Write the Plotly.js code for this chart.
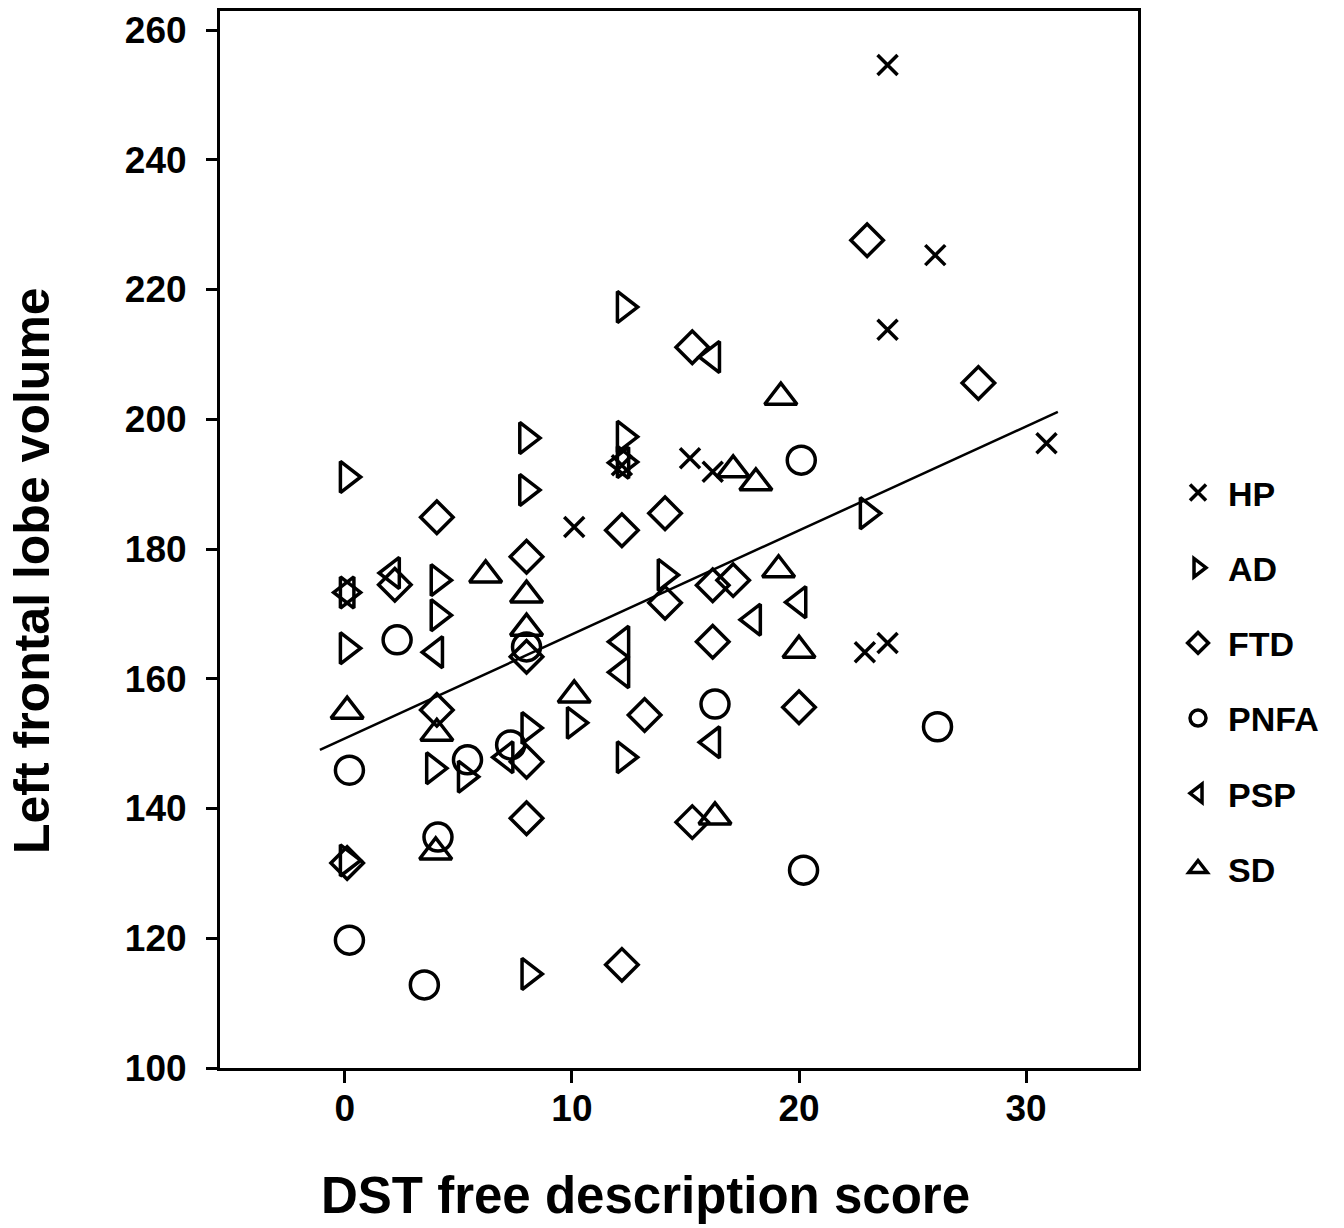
<!DOCTYPE html>
<html>
<head>
<meta charset="utf-8">
<script src="https://cdn.plot.ly/plotly-3.0.1.min.js"></script>
<style>html,body{margin:0;padding:0;background:#fff;}#chart{width:1344px;height:1228px;}</style>
</head>
<body>
<div id="chart"></div>
<script>
// ---- data ----
const groupNames = ["HP", "AD", "FTD", "PNFA", "PSP", "SD"];

const hpX = [23.9, 26.0, 23.9, 30.9, 15.2, 16.2, 10.1, 12.2, 22.9, 23.9];
const hpY = [254.6, 225.3, 213.8, 196.3, 194.0, 191.9, 183.4, 192.9, 164.1, 165.5];

const adX = [12.3, 8.0, 12.3, 0.1, 8.0, 23.0, 4.1, 4.1, 0.1, 14.1, 12.3, 3.9, 5.3, 8.1, 12.3, 10.1, 8.1, 0.1, 0.1];
const adY = [217.3, 197.1, 197.3, 191.1, 189.1, 185.5, 175.2, 169.8, 164.7, 176.0, 193.4, 146.2, 144.9, 152.4, 147.9, 153.2, 114.5, 132.0, 173.3];

const ftdX = [23.0, 27.9, 15.3, 4.05, 8.0, 12.2, 14.1, 2.2, 14.1, 16.2, 17.1, 16.2, 8.0, 4.05, 13.2, 20.0, 8.0, 8.0, 15.3, 12.2, 0.1];
const ftdY = [227.6, 205.6, 211.1, 184.9, 178.8, 182.9, 185.5, 174.5, 171.7, 174.4, 175.2, 165.7, 163.4, 155.2, 154.4, 155.6, 147.2, 138.5, 137.9, 115.9, 131.6];

const pnfaX = [20.1, 2.3, 8.0, 0.2, 5.4, 7.3, 16.3, 26.1, 20.2, 4.1, 0.2, 3.5];
const pnfaY = [193.7, 166.0, 164.9, 145.9, 147.5, 149.8, 156.1, 152.6, 130.5, 135.6, 119.7, 112.8];

const pspX = [16.2, 12.2, 2.1, 0.1, 4.0, 20.0, 18.0, 12.2, 12.2, 16.2, 7.1];
const pspY = [209.6, 193.3, 176.3, 173.3, 164.1, 171.8, 169.1, 165.7, 161.0, 150.2, 147.9];

const sdX = [19.2, 17.1, 18.1, 6.2, 8.0, 8.0, 19.1, 20.0, 10.1, 0.1, 4.05, 16.3, 4.0];
const sdY = [203.4, 192.2, 190.2, 176.0, 172.9, 167.8, 176.8, 164.4, 157.5, 155.0, 151.6, 138.7, 133.3];

// fitted regression line
const fitIntercept = 150.8;
const fitSlope = 1.603;
const fitXRange = [-1.1, 31.4];

const yTickVals = [100, 120, 140, 160, 180, 200, 220, 240, 260];
const xTickVals = [0, 10, 20, 30];

const xTitle = "DST free description score";
const yTitle = "Left frontal lobe volume";

// ---- styling ----
const FONT = "Liberation Sans, Arial, Helvetica, sans-serif";
const symbols = {
  HP:   {symbol: "x-thin-open", size: 20},
  AD:   {symbol: "triangle-right-open", size: 27},
  FTD:  {symbol: "diamond-open", size: 25},
  PNFA: {symbol: "circle-open", size: 28},
  PSP:  {symbol: "triangle-left-open", size: 27},
  SD:   {symbol: "triangle-up-open", size: 28}
};
const seriesX = {HP: hpX, AD: adX, FTD: ftdX, PNFA: pnfaX, PSP: pspX, SD: sdX};
const seriesY = {HP: hpY, AD: adY, FTD: ftdY, PNFA: pnfaY, PSP: pspY, SD: sdY};

const traces = groupNames.map(name => ({
  type: "scatter",
  mode: "markers",
  name: name,
  legendgroup: name,
  x: seriesX[name],
  y: seriesY[name],
  marker: {
    symbol: symbols[name].symbol,
    size: symbols[name].size,
    color: "black",
    line: {color: "black", width: 3.5}
  },
  cliponaxis: false
}));

const fitX = fitXRange.slice();
const fitY = fitX.map(x => fitIntercept + fitSlope * x);
traces.unshift({
  type: "scatter",
  mode: "lines",
  x: fitX,
  y: fitY,
  line: {color: "black", width: 2.5},
  showlegend: false,
  hoverinfo: "skip"
});

const layout = {
  width: 1344,
  height: 1228,
  margin: {l: 220, r: 206, t: 11, b: 160},
  paper_bgcolor: "white",
  plot_bgcolor: "white",
  font: {family: FONT, color: "black"},
  showlegend: true,
  legend: {
    x: 1.0327, xanchor: "left",
    y: 0.5715, yanchor: "top",
    font: {family: FONT, size: 34, weight: "bold", color: "black"},
    itemwidth: 50,
    tracegroupgap: 28,
    bgcolor: "rgba(0,0,0,0)",
    borderwidth: 0
  },
  xaxis: {
    range: [-5.5, 34.93],
    tickvals: xTickVals,
    ticks: "outside",
    ticklen: 12,
    tickwidth: 3,
    tickcolor: "black",
    showline: true,
    linewidth: 3,
    linecolor: "black",
    mirror: true,
    showgrid: false,
    zeroline: false,
    ticklabelstandoff: -6,
    tickfont: {family: FONT, size: 37, weight: "bold", color: "black"},
    automargin: false
  },
  yaxis: {
    range: [100, 262.93],
    tickvals: yTickVals,
    ticks: "outside",
    ticklen: 11,
    tickwidth: 3,
    tickcolor: "black",
    showline: true,
    linewidth: 3,
    linecolor: "black",
    mirror: true,
    showgrid: false,
    zeroline: false,
    ticklabelstandoff: 12,
    tickfont: {family: FONT, size: 37, weight: "bold", color: "black"},
    automargin: false
  },
  annotations: [
    {
      text: xTitle, showarrow: false,
      xref: "paper", yref: "paper",
      x: 0.463, y: -0.1202, xanchor: "center", yanchor: "middle",
      font: {family: FONT, size: 51, weight: "bold", color: "black"}
    },
    {
      text: yTitle, showarrow: false, textangle: -90,
      xref: "paper", yref: "paper",
      x: -0.2048, y: 0.4711, xanchor: "center", yanchor: "middle",
      font: {family: FONT, size: 50, weight: "bold", color: "black"}
    }
  ]
};

Plotly.newPlot("chart", traces, layout, {displayModeBar: false, staticPlot: true});
</script>
</body>
</html>
